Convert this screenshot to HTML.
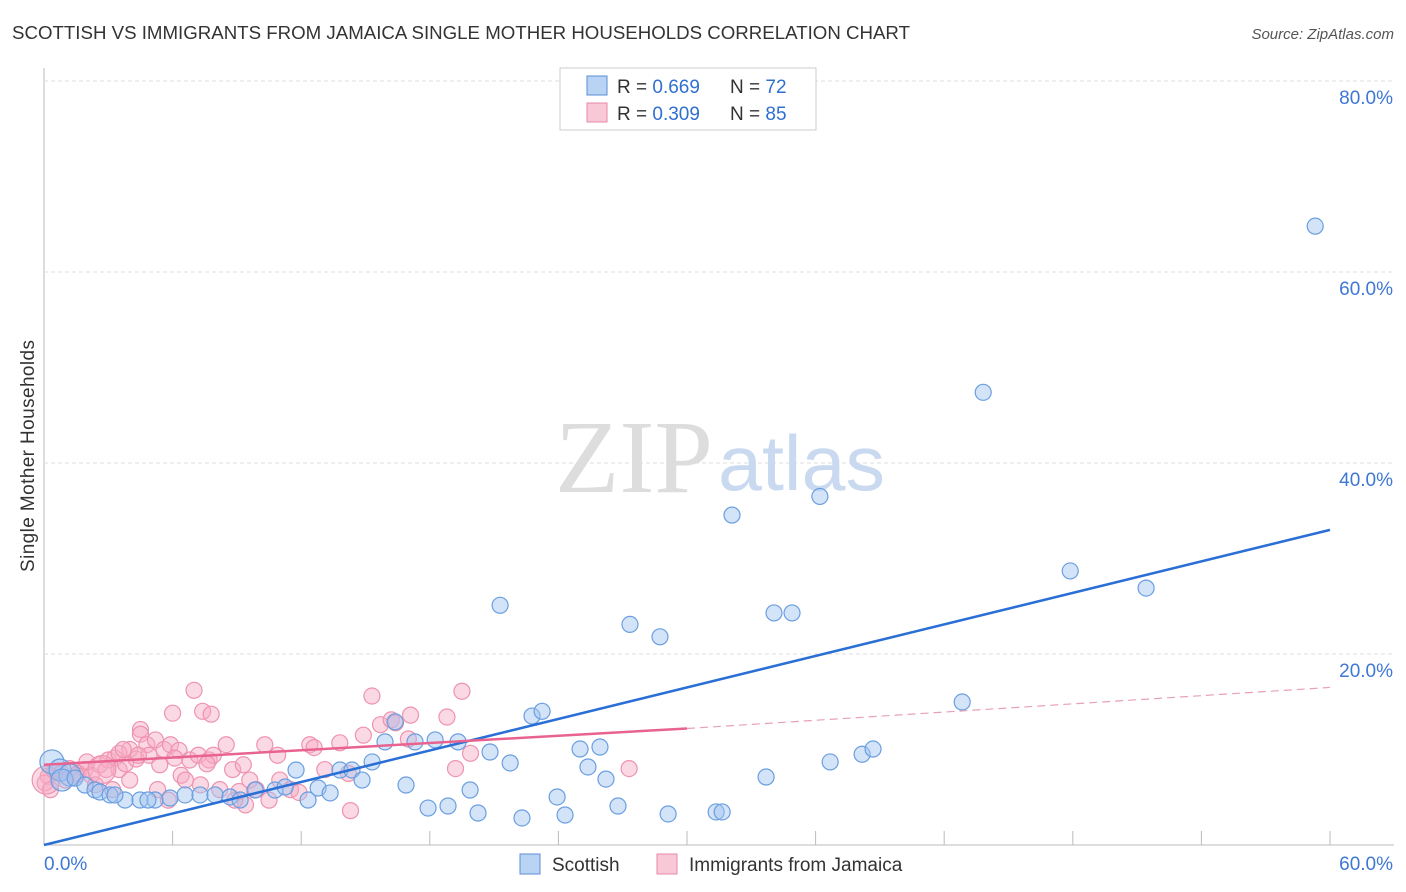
<!DOCTYPE html>
<html><head><meta charset="utf-8"><style>
body{margin:0;background:#fff;font-family:"Liberation Sans",sans-serif;}
</style></head><body>
<svg width="1406" height="892" xmlns="http://www.w3.org/2000/svg" style="display:block">
<text x="12" y="39" font-size="18" fill="#333" textLength="898" lengthAdjust="spacingAndGlyphs">SCOTTISH VS IMMIGRANTS FROM JAMAICA SINGLE MOTHER HOUSEHOLDS CORRELATION CHART</text>
<text x="1394" y="39" font-size="15" fill="#555" font-style="italic" text-anchor="end">Source: ZipAtlas.com</text>
<g id="grid"></g>
<text x="555" y="492" font-size="104" fill="#ddd" textLength="158" lengthAdjust="spacingAndGlyphs" font-family="Liberation Serif">ZIP</text>
<text x="718" y="490" font-size="78" fill="#c9daf0" textLength="167" lengthAdjust="spacingAndGlyphs">atlas</text>
<g id="pts"></g>
<g id="lines"></g>
<text transform="translate(34,456) rotate(-90)" font-size="19" fill="#333" text-anchor="middle" textLength="232">Single Mother Households</text>
<g>
<rect x="560" y="68" width="256" height="62" fill="#fff" stroke="#ccc"/>
<rect x="587" y="76" width="20" height="19" fill="#b9d3f4" stroke="#5b8fd6"/>
<rect x="587" y="103" width="20" height="19" fill="#f9c8d6" stroke="#e889a6"/>
<text x="617" y="93" font-size="19" fill="#333">R = <tspan fill="#2f6fd0">0.669</tspan></text>
<text x="730" y="93" font-size="19" fill="#333">N = <tspan fill="#2f6fd0">72</tspan></text>
<text x="617" y="120" font-size="19" fill="#333">R = <tspan fill="#2f6fd0">0.309</tspan></text>
<text x="730" y="120" font-size="19" fill="#333">N = <tspan fill="#2f6fd0">85</tspan></text>
</g>
<g>
<rect x="520" y="854" width="20" height="20" fill="#b9d3f4" stroke="#5b8fd6"/>
<text x="552" y="871" font-size="19" fill="#333">Scottish</text>
<rect x="657" y="854" width="20" height="20" fill="#f9c8d6" stroke="#e889a6"/>
<text x="689" y="871" font-size="19" fill="#333">Immigrants from Jamaica</text>
</g>
</svg>
<script>
const yTicks=[20,40,60,80];
const xTickLabels=["0.0%","60.0%"];
const blueX=[0.37,0.75,1.21,0.84,1.45,1.91,2.38,2.61,3.08,3.78,4.48,5.18,5.88,6.58,7.28,7.98,8.68,9.15,9.85,10.78,11.25,11.76,12.32,12.79,13.35,13.81,14.37,14.84,15.31,15.91,16.38,16.89,17.31,17.92,18.25,18.85,19.32,19.88,20.25,20.81,21.28,21.75,22.3,22.77,23.24,23.94,24.31,25.01,25.38,25.94,26.22,26.78,27.34,28.74,29.12,31.36,31.64,32.1,33.69,34.06,34.9,36.2,36.68,38.17,38.68,42.84,43.82,47.88,51.42,59.31,3.31,4.85];
const blueY=[8.7,7.85,7.33,6.8,7.0,6.28,5.76,5.55,5.24,4.71,4.71,4.71,4.92,5.24,5.24,5.24,5.03,4.71,5.76,5.76,6.07,7.85,4.71,5.97,5.45,7.85,7.85,6.8,8.7,10.8,12.9,6.28,10.8,3.87,11.0,4.08,10.8,5.76,3.35,9.74,25.1,8.59,2.83,13.5,14.0,5.03,3.14,10.05,8.17,10.26,6.9,4.08,23.1,21.8,3.25,3.46,3.46,34.55,7.12,24.3,24.3,36.5,8.7,9.5,10.05,14.97,47.4,28.7,26.9,64.8,5.24,4.71];
const pinkX=[0.2,0.5,0.8,1.2,1.6,1.9,2.2,2.6,3.0,3.3,3.5,3.8,4.0,4.3,4.5,4.5,4.8,4.9,5.2,5.4,5.6,5.9,6.0,6.3,6.4,6.6,6.8,7.0,7.2,7.4,7.7,7.8,7.9,8.2,8.5,8.8,9.1,9.4,9.6,9.9,10.3,10.9,11.0,11.5,12.4,12.6,13.8,14.2,14.3,14.9,15.3,15.7,16.2,16.4,17.0,17.1,18.8,19.2,19.5,19.9,27.3,2.4,2.9,3.2,4.0,5.3,5.8,7.3,8.9,10.5,0.05,0.3,1.0,2.0,3.5,4.4,0.1,2.7,6.1,7.6,11.9,13.1,9.3,3.7,1.5];
const pinkY=[7.2,7.7,7.5,8.0,7.5,7.9,7.3,8.4,8.9,9.1,7.9,8.5,10.0,9.0,12.1,11.6,10.5,9.4,11.0,8.4,10.0,10.5,13.8,9.9,7.3,6.8,8.9,16.2,9.4,14.0,8.9,13.7,9.4,5.8,10.5,7.9,5.6,4.2,6.8,5.8,10.5,9.4,6.8,5.8,10.5,10.2,10.7,7.5,3.6,11.5,15.6,12.6,13.1,12.8,11.1,13.6,13.4,8.0,16.1,9.6,8.0,6.3,7.9,5.8,6.8,5.8,4.7,6.3,4.7,4.7,6.5,5.8,6.8,8.7,9.6,9.4,6.8,7.9,9.1,8.5,5.5,7.9,8.4,10.0,7.3];
const L=44,R=1330,B=845,T=81;
const sx=v=>L+(R-L)*v/60, sy=v=>B-(B-T)*v/80;
const NS="http://www.w3.org/2000/svg";
function mk(tag,attrs,parent){const e=document.createElementNS(NS,tag);for(const k in attrs)e.setAttribute(k,attrs[k]);parent.appendChild(e);return e;}
const grid=document.getElementById('grid');
let ax=mk('line',{x1:L,y1:68,x2:L,y2:B,stroke:'#bbb'},grid);


let bx=mk('line',{x1:L,y1:B,x2:R+64,y2:B,stroke:'#bbb'},grid);


yTicks.forEach(t=>{
 let g=mk('line',{x1:L,y1:sy(t),x2:1394,y2:sy(t),stroke:'#ddd','stroke-dasharray':'4,3'},grid);
 
 
 let tx=mk('text',{x:1393,y:sy(t)+23,'font-size':19,fill:'#3f77d4','text-anchor':'end'},grid);
 tx.textContent=t.toFixed(1)+'%';
 
 
});
for(let i=1;i<=10;i++){
 let x=L+(R-L)*i/10;
 let t=mk('line',{x1:x,y1:B-14,x2:x,y2:B,stroke:'#bbb'},grid);
 
 
}
let xl0=mk('text',{x:44,y:870,'font-size':19,fill:'#3f77d4'},grid);xl0.textContent=xTickLabels[0];


let xl1=mk('text',{x:1393,y:870,'font-size':19,fill:'#3f77d4','text-anchor':'end'},grid);xl1.textContent=xTickLabels[1];


const pts=document.getElementById('pts');
pinkX.forEach((v,i)=>{
 let c=mk('circle',{cx:sx(v),cy:sy(pinkY[i]),r:i>=76&&i<=77?14:8,fill:'rgba(246,170,195,0.45)',stroke:'#ee93b0','stroke-width':1.2},pts);
 
 
});
blueX.forEach((v,i)=>{
 let c=mk('circle',{cx:sx(v),cy:sy(blueY[i]),r:i===0?12:(i<4?11:8),fill:'rgba(160,195,240,0.45)',stroke:'#6a9ee0','stroke-width':1.2},pts);
 
 
});
const lines=document.getElementById('lines');
let bl=mk('line',{x1:sx(0),y1:sy(0),x2:sx(60),y2:sy(33),stroke:'#2a6fd6','stroke-width':2.5},lines);


let pl=mk('line',{x1:sx(0),y1:sy(8.4),x2:sx(30),y2:sy(12.2),stroke:'#e8638f','stroke-width':2.5},lines);


let pd=mk('line',{x1:sx(30),y1:sy(12.2),x2:sx(60),y2:sy(16.5),stroke:'#e8a0b8','stroke-width':1.2,'stroke-dasharray':'8,5'},lines);


</script>
</body></html>
